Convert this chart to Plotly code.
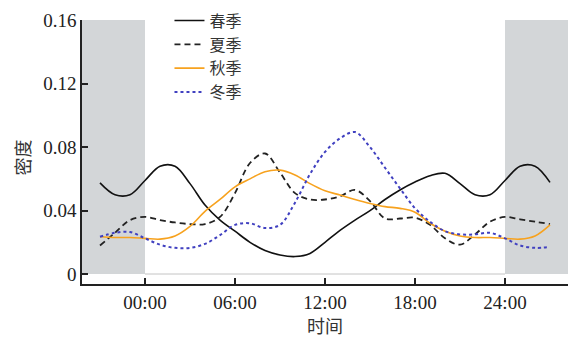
import plotly.graph_objects as go

hours = list(range(-3, 28))
spring = [0.0575, 0.050, 0.050, 0.059, 0.068, 0.068, 0.057, 0.0435, 0.034, 0.027, 0.020, 0.0148,
          0.012, 0.011, 0.013, 0.020, 0.0275, 0.034, 0.040, 0.047, 0.053, 0.058, 0.062, 0.0635,
          0.057, 0.050, 0.050, 0.059, 0.068, 0.068, 0.0578]
summer = [0.018, 0.026, 0.034, 0.036, 0.034, 0.0325, 0.0315, 0.0315, 0.036, 0.051, 0.070, 0.076,
          0.064, 0.051, 0.047, 0.047, 0.049, 0.053, 0.046, 0.035, 0.035, 0.0355, 0.031, 0.0225,
          0.0185, 0.025, 0.033, 0.036, 0.0345, 0.033, 0.0315]
autumn = [0.0235, 0.023, 0.023, 0.0225, 0.022, 0.024, 0.030, 0.0395, 0.047, 0.055, 0.060, 0.0645,
          0.0655, 0.0625, 0.057, 0.0525, 0.0498, 0.047, 0.0445, 0.0425, 0.0414, 0.039, 0.032, 0.027,
          0.024, 0.023, 0.023, 0.0225, 0.022, 0.024, 0.031]
winter = [0.0235, 0.026, 0.0265, 0.0225, 0.0185, 0.0165, 0.0165, 0.019, 0.0245, 0.031, 0.032, 0.029,
          0.031, 0.045, 0.063, 0.077, 0.0855, 0.0895, 0.080, 0.067, 0.054, 0.0415, 0.033, 0.027,
          0.025, 0.025, 0.026, 0.0225, 0.018, 0.0165, 0.017]

series = [("春季", spring, "#111111", "solid", 1.6),
          ("夏季", summer, "#222222", "6px,4px", 1.8),
          ("秋季", autumn, "#F7A21E", "solid", 1.6),
          ("冬季", winter, "#4040C0", "dot", 2)]

xtick_vals = [0, 6, 12, 18, 24]
xtick_text = ["00:00", "06:00", "12:00", "18:00", "24:00"]
ytick_vals = [0, 0.04, 0.08, 0.12, 0.16]
ytick_text = ["0", "0.04", "0.08", "0.12", "0.16"]

XMIN, XMAX = -4.2, 28.2
YMIN, YMAX = -0.0063, 0.1602

SERIF = "Liberation Serif"
CJK = "Noto Sans CJK SC"

fig = go.Figure()
for name, vals, color, dash, w in series:
    fig.add_trace(go.Scatter(
        x=hours, y=vals, name=name, mode="lines",
        line=dict(color=color, width=w, dash=dash, shape="spline", smoothing=1.0),
    ))

# shaded night regions
fig.add_shape(type="rect", xref="x", yref="y", x0=XMIN, x1=0, y0=0, y1=YMAX,
              fillcolor="#D3D6D8", line_width=0, layer="below")
fig.add_shape(type="rect", xref="x", yref="y", x0=24, x1=XMAX, y0=0, y1=YMAX,
              fillcolor="#D3D6D8", line_width=0, layer="below")
fig.add_shape(type="line", xref="x", yref="y", x0=0, x1=24, y0=0, y1=0,
              line=dict(color="#C4C4C4", width=1), layer="below")

# axis titles
fig.add_annotation(text="时间", xref="x", yref="paper", x=12, y=-0.155, yanchor="middle",
                   showarrow=False, font=dict(family=CJK, size=18, color="#333333"))
fig.add_annotation(text="密度", xref="paper", yref="paper", x=-0.123, y=0.48, textangle=-90,
                   xanchor="center", yanchor="middle",
                   showarrow=False, font=dict(family=CJK, size=18, color="#333333"))

fig.update_layout(
    width=568, height=337,
    margin=dict(l=82, r=0, t=20, b=53, autoexpand=False),
    paper_bgcolor="white", plot_bgcolor="white",
    font=dict(family=SERIF, size=18, color="#222222"),
    showlegend=True,
    legend=dict(x=0.18, y=1.062, xanchor="left", yanchor="top",
                bgcolor="rgba(0,0,0,0)", font=dict(size=16, family=CJK, color="#333333"),
                itemwidth=30, tracegroupgap=0),
    xaxis=dict(range=[XMIN, XMAX], tickvals=xtick_vals, ticktext=xtick_text, automargin=False,
               showgrid=False, zeroline=False, showline=True, linecolor="#222222", linewidth=1.5,
               ticks="inside", ticklen=6, tickwidth=1.5, tickcolor="#222222",
               tickfont=dict(size=19, family=SERIF)),
    yaxis=dict(range=[YMIN, YMAX], tickvals=ytick_vals, ticktext=ytick_text, automargin=False,
               showgrid=False, zeroline=False, showline=True, linecolor="#222222", linewidth=1.5,
               ticks="inside", ticklen=6, tickwidth=1.5, tickcolor="#222222",
               tickfont=dict(size=19, family=SERIF)),
)

fig.write_html("out.html", config={"displayModeBar": False},
               post_script="document.body.style.margin='0';document.body.style.overflow='hidden';")
